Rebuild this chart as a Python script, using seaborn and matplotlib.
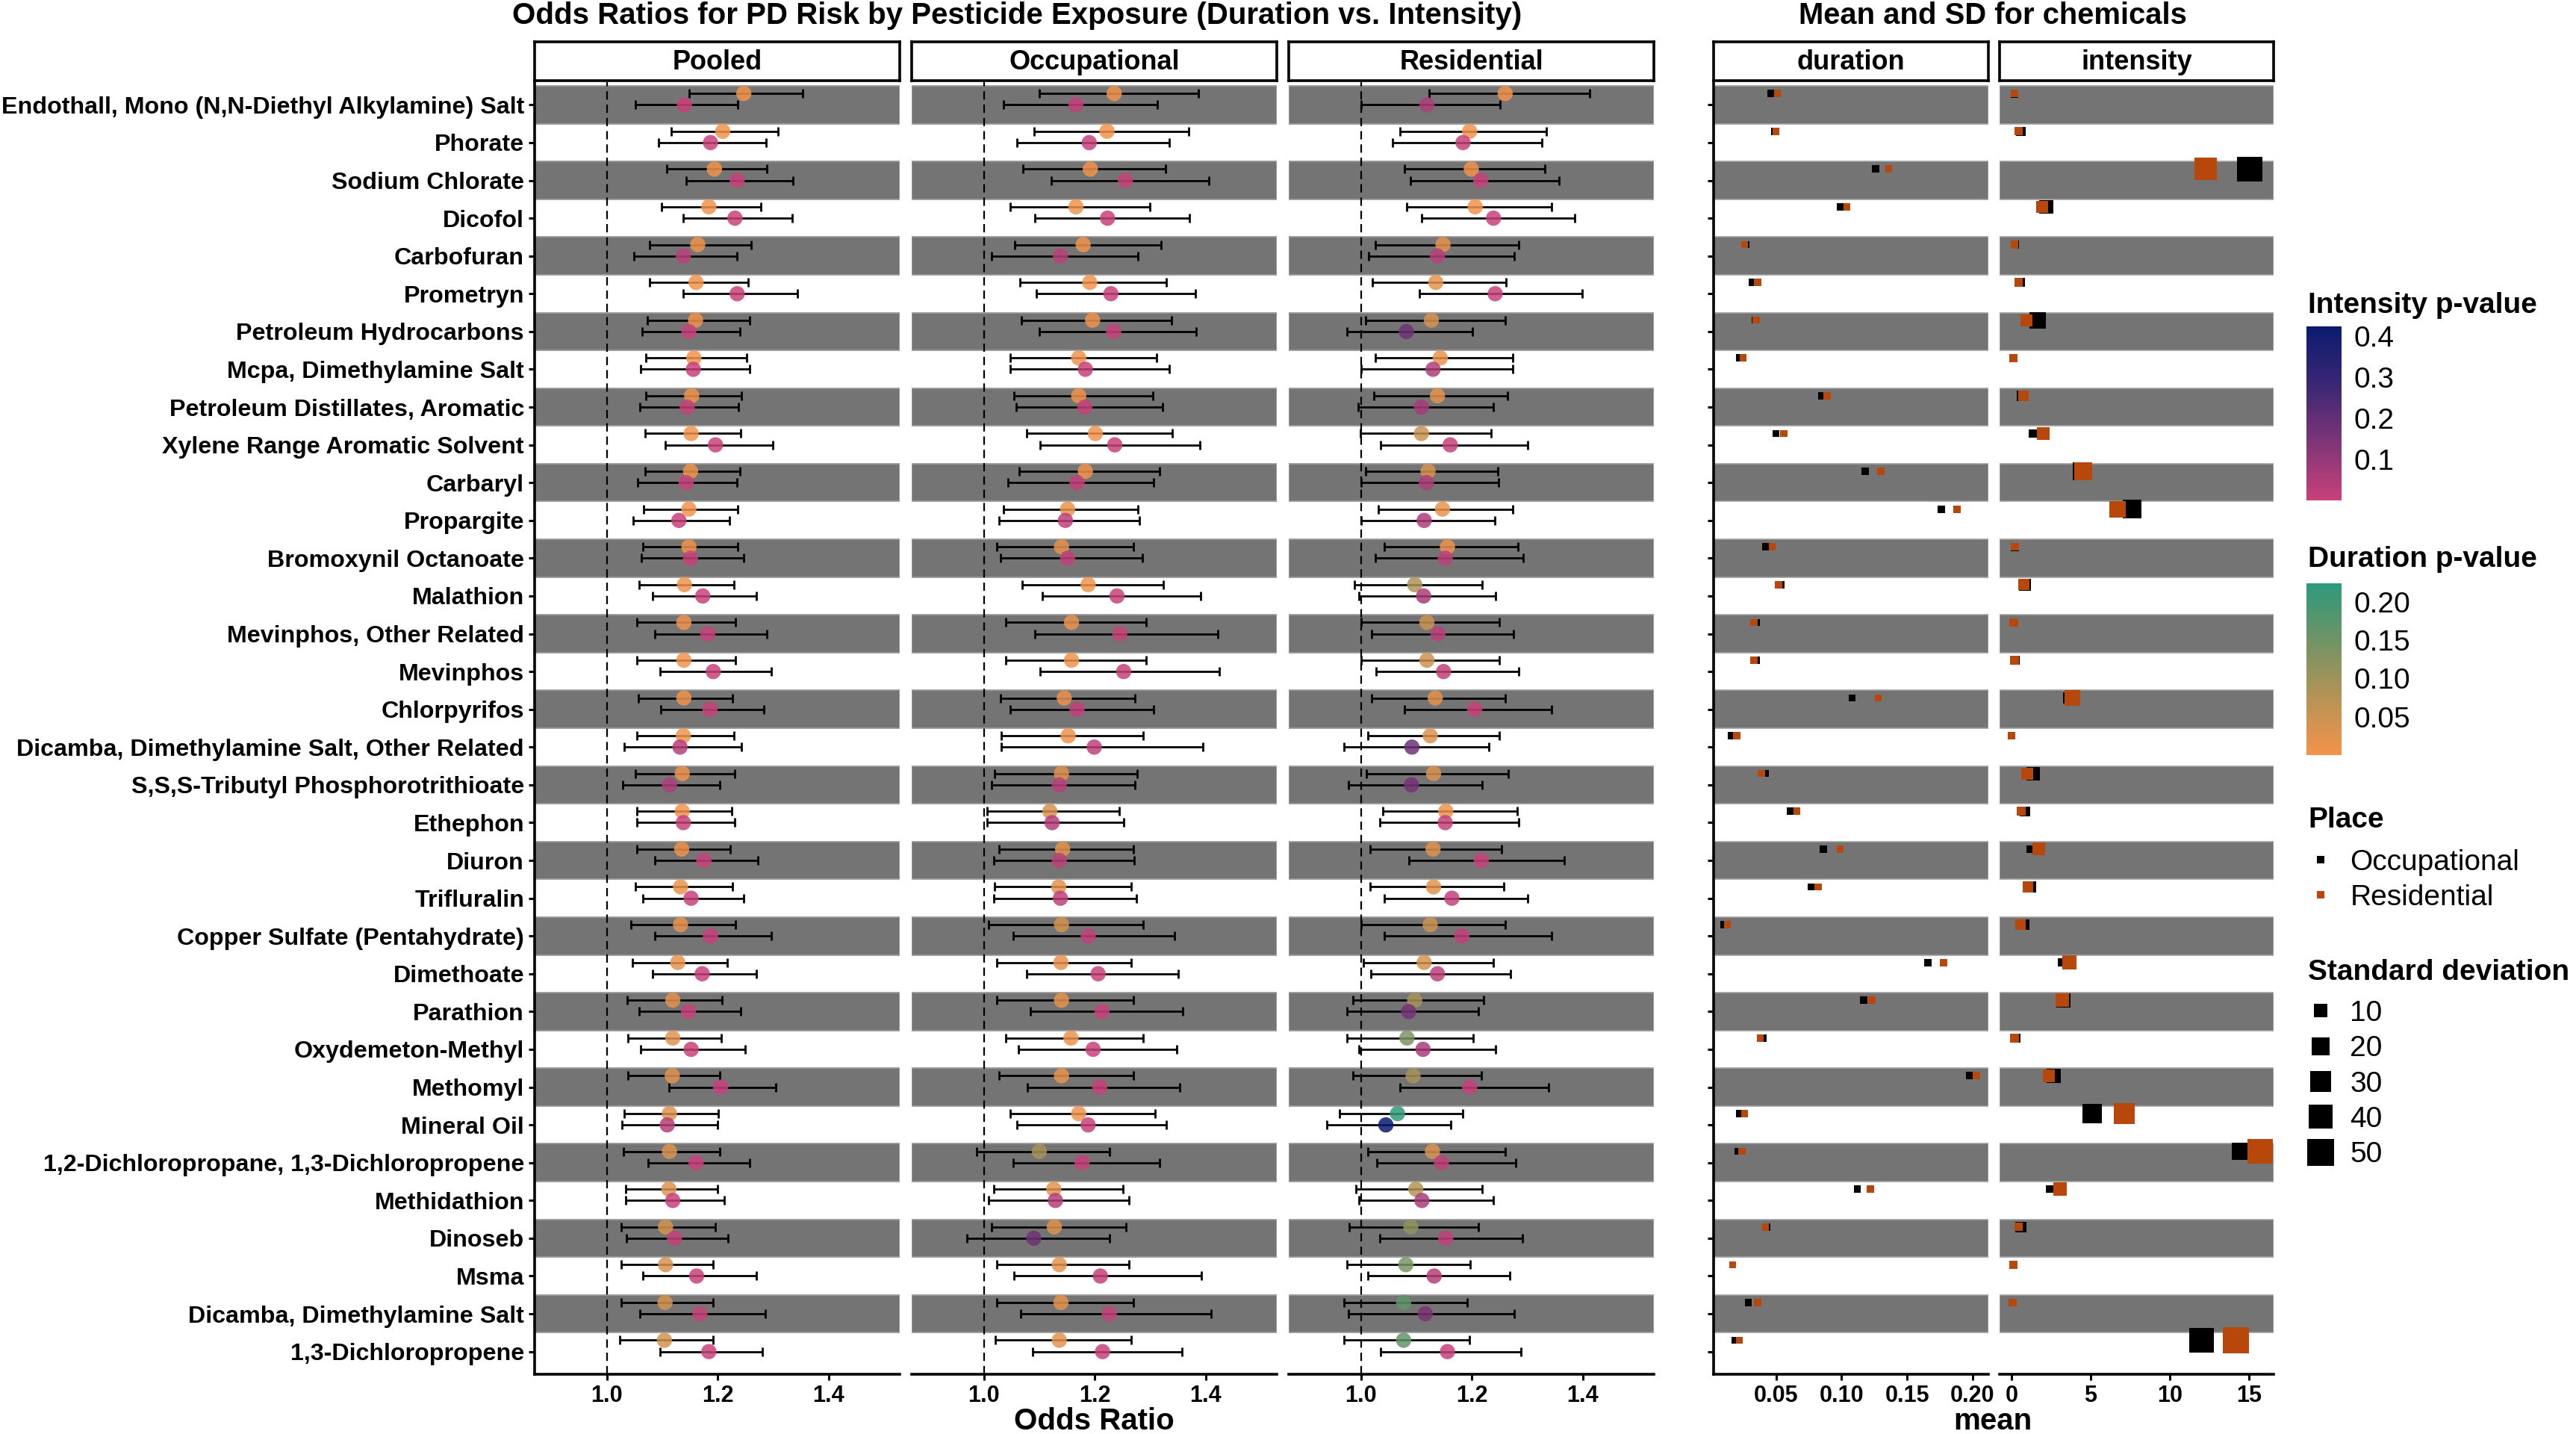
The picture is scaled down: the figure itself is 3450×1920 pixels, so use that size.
import numpy as np
import pandas as pd
import matplotlib
matplotlib.use("Agg")
from matplotlib import pyplot as plt
import seaborn as sns
from matplotlib.colors import LinearSegmentedColormap, Normalize
from matplotlib.lines import Line2D

# ---------------------------------------------------------------- data
chemicals = [
    "Endothall, Mono (N,N-Diethyl Alkylamine) Salt", "Phorate", "Sodium Chlorate",
    "Dicofol", "Carbofuran", "Prometryn", "Petroleum Hydrocarbons",
    "Mcpa, Dimethylamine Salt", "Petroleum Distillates, Aromatic",
    "Xylene Range Aromatic Solvent", "Carbaryl", "Propargite", "Bromoxynil Octanoate",
    "Malathion", "Mevinphos, Other Related", "Mevinphos", "Chlorpyrifos",
    "Dicamba, Dimethylamine Salt, Other Related", "S,S,S-Tributyl Phosphorotrithioate",
    "Ethephon", "Diuron", "Trifluralin", "Copper Sulfate (Pentahydrate)", "Dimethoate",
    "Parathion", "Oxydemeton-Methyl", "Methomyl", "Mineral Oil",
    "1,2-Dichloropropane, 1,3-Dichloropropene", "Methidathion", "Dinoseb", "Msma",
    "Dicamba, Dimethylamine Salt", "1,3-Dichloropropene",
]

# Pooled
pooled_dur_or = [1.247, 1.209, 1.194, 1.184, 1.164, 1.161, 1.160, 1.157, 1.153, 1.152, 1.151, 1.148, 1.148, 1.140, 1.139, 1.139, 1.139,
                 1.138, 1.136, 1.136, 1.135, 1.133, 1.133, 1.128, 1.119, 1.119, 1.118, 1.113, 1.113, 1.112, 1.106, 1.106, 1.105, 1.104]
pooled_dur_lo = [1.149, 1.116, 1.108, 1.099, 1.077, 1.077, 1.073, 1.071, 1.070, 1.069, 1.069, 1.066, 1.065, 1.058, 1.055, 1.055, 1.057,
                 1.055, 1.051, 1.055, 1.055, 1.051, 1.043, 1.046, 1.037, 1.038, 1.038, 1.032, 1.030, 1.034, 1.026, 1.026, 1.026, 1.023]
pooled_dur_hi = [1.353, 1.308, 1.288, 1.278, 1.260, 1.255, 1.257, 1.252, 1.243, 1.242, 1.240, 1.236, 1.236, 1.229, 1.232, 1.232, 1.227,
                 1.229, 1.230, 1.225, 1.223, 1.226, 1.232, 1.217, 1.208, 1.207, 1.204, 1.201, 1.204, 1.200, 1.195, 1.192, 1.192, 1.192]
pooled_dur_p = [0.001, 0.001, 0.001, 0.001, 0.002, 0.002, 0.002, 0.002, 0.003, 0.003, 0.003, 0.004, 0.004, 0.005, 0.005, 0.005, 0.005,
                0.006, 0.006, 0.006, 0.007, 0.008, 0.012, 0.015, 0.020, 0.025, 0.025, 0.030, 0.030, 0.030, 0.035, 0.035, 0.040, 0.040]
pooled_int_or = [1.140, 1.187, 1.235, 1.231, 1.138, 1.235, 1.148, 1.156, 1.145, 1.196, 1.143, 1.130, 1.151, 1.173, 1.182, 1.192, 1.186,
                 1.132, 1.113, 1.138, 1.175, 1.152, 1.187, 1.172, 1.147, 1.152, 1.205, 1.109, 1.161, 1.119, 1.122, 1.162, 1.168, 1.184]
pooled_int_lo = [1.052, 1.094, 1.143, 1.138, 1.049, 1.138, 1.064, 1.061, 1.060, 1.105, 1.056, 1.047, 1.062, 1.083, 1.086, 1.096, 1.097,
                 1.031, 1.029, 1.055, 1.086, 1.065, 1.086, 1.082, 1.059, 1.061, 1.112, 1.027, 1.075, 1.034, 1.036, 1.065, 1.060, 1.096]
pooled_int_hi = [1.236, 1.287, 1.336, 1.334, 1.235, 1.343, 1.240, 1.258, 1.238, 1.299, 1.235, 1.221, 1.247, 1.270, 1.288, 1.297, 1.283,
                 1.243, 1.204, 1.230, 1.273, 1.247, 1.297, 1.269, 1.241, 1.250, 1.305, 1.200, 1.257, 1.212, 1.219, 1.270, 1.286, 1.281]
pooled_int_p = [0.001, 0.001, 0.001, 0.001, 0.020, 0.001, 0.002, 0.002, 0.002, 0.001, 0.002, 0.003, 0.002, 0.001, 0.001, 0.001, 0.001,
                0.030, 0.050, 0.002, 0.001, 0.002, 0.001, 0.001, 0.002, 0.002, 0.001, 0.030, 0.001, 0.007, 0.006, 0.002, 0.003, 0.001]

# Occupational
occ_dur_or = [1.235, 1.222, 1.192, 1.166, 1.179, 1.191, 1.196, 1.171, 1.171, 1.201, 1.183, 1.151, 1.140, 1.188, 1.158, 1.158, 1.145,
              1.152, 1.140, 1.119, 1.142, 1.135, 1.140, 1.139, 1.140, 1.157, 1.140, 1.171, 1.100, 1.126, 1.127, 1.136, 1.139, 1.136]
occ_dur_lo = [1.100, 1.091, 1.070, 1.048, 1.056, 1.065, 1.068, 1.048, 1.055, 1.077, 1.064, 1.035, 1.023, 1.069, 1.039, 1.039, 1.030,
              1.031, 1.019, 1.006, 1.027, 1.019, 1.009, 1.023, 1.023, 1.039, 1.027, 1.048, 0.987, 1.018, 1.014, 1.023, 1.023, 1.021]
occ_dur_hi = [1.387, 1.369, 1.327, 1.299, 1.319, 1.329, 1.338, 1.312, 1.304, 1.340, 1.317, 1.278, 1.270, 1.323, 1.292, 1.292, 1.273,
              1.287, 1.277, 1.244, 1.269, 1.265, 1.287, 1.266, 1.270, 1.287, 1.270, 1.309, 1.227, 1.251, 1.256, 1.262, 1.269, 1.266]
occ_dur_p = [0.001, 0.001, 0.001, 0.005, 0.003, 0.002, 0.002, 0.005, 0.003, 0.001, 0.002, 0.012, 0.018, 0.001, 0.010, 0.010, 0.013,
             0.012, 0.022, 0.038, 0.016, 0.021, 0.035, 0.018, 0.018, 0.010, 0.015, 0.005, 0.090, 0.021, 0.026, 0.020, 0.018, 0.020]
occ_int_or = [1.166, 1.190, 1.255, 1.223, 1.138, 1.229, 1.234, 1.183, 1.182, 1.236, 1.168, 1.147, 1.151, 1.240, 1.245, 1.252, 1.168,
              1.199, 1.136, 1.123, 1.136, 1.138, 1.188, 1.206, 1.213, 1.197, 1.209, 1.188, 1.177, 1.129, 1.090, 1.210, 1.226, 1.214]
occ_int_lo = [1.035, 1.060, 1.122, 1.092, 1.014, 1.095, 1.100, 1.048, 1.058, 1.101, 1.043, 1.027, 1.030, 1.106, 1.092, 1.101, 1.048,
              1.031, 1.014, 1.006, 1.018, 1.018, 1.053, 1.077, 1.084, 1.062, 1.079, 1.060, 1.053, 1.009, 0.969, 1.055, 1.066, 1.088]
occ_int_hi = [1.313, 1.334, 1.405, 1.371, 1.278, 1.382, 1.383, 1.334, 1.322, 1.390, 1.306, 1.281, 1.286, 1.391, 1.422, 1.425, 1.306,
              1.395, 1.273, 1.252, 1.271, 1.275, 1.343, 1.351, 1.358, 1.348, 1.353, 1.329, 1.317, 1.262, 1.226, 1.392, 1.409, 1.357]
occ_int_p = [0.011, 0.003, 0.001, 0.001, 0.027, 0.001, 0.001, 0.007, 0.003, 0.001, 0.010, 0.014, 0.012, 0.001, 0.002, 0.002, 0.007,
             0.018, 0.027, 0.039, 0.020, 0.020, 0.005, 0.001, 0.001, 0.003, 0.001, 0.003, 0.004, 0.034, 0.170, 0.008, 0.006, 0.001]

# Residential
res_dur_or = [1.260, 1.196, 1.199, 1.206, 1.148, 1.135, 1.127, 1.143, 1.138, 1.109, 1.121, 1.147, 1.156, 1.097, 1.119, 1.119, 1.134,
              1.125, 1.131, 1.153, 1.130, 1.131, 1.125, 1.114, 1.097, 1.083, 1.094, 1.066, 1.129, 1.099, 1.090, 1.081, 1.077, 1.077]
res_dur_lo = [1.123, 1.071, 1.078, 1.083, 1.026, 1.021, 1.008, 1.026, 1.023, 0.999, 1.009, 1.032, 1.042, 0.988, 1.001, 1.001, 1.019,
              1.013, 1.010, 1.039, 1.017, 1.017, 1.001, 1.004, 0.986, 0.975, 0.986, 0.962, 1.012, 0.991, 0.979, 0.975, 0.970, 0.970]
res_dur_hi = [1.412, 1.334, 1.332, 1.343, 1.284, 1.262, 1.260, 1.274, 1.264, 1.234, 1.247, 1.274, 1.283, 1.218, 1.249, 1.249, 1.260,
              1.249, 1.265, 1.282, 1.253, 1.258, 1.260, 1.239, 1.221, 1.203, 1.217, 1.183, 1.260, 1.219, 1.212, 1.197, 1.192, 1.195]
res_dur_p = [0.001, 0.001, 0.001, 0.001, 0.016, 0.019, 0.036, 0.015, 0.017, 0.052, 0.033, 0.011, 0.006, 0.082, 0.048, 0.048, 0.021,
             0.028, 0.033, 0.007, 0.023, 0.023, 0.048, 0.041, 0.089, 0.136, 0.091, 0.220, 0.030, 0.074, 0.115, 0.138, 0.165, 0.165]
res_int_or = [1.119, 1.184, 1.216, 1.239, 1.138, 1.242, 1.082, 1.130, 1.109, 1.161, 1.118, 1.114, 1.152, 1.113, 1.139, 1.149, 1.205,
              1.092, 1.091, 1.152, 1.217, 1.164, 1.182, 1.138, 1.086, 1.112, 1.196, 1.045, 1.145, 1.110, 1.153, 1.132, 1.116, 1.156]
res_int_lo = [1.001, 1.057, 1.090, 1.109, 1.014, 1.105, 0.975, 1.001, 0.995, 1.036, 1.001, 1.000, 1.026, 0.996, 1.019, 1.027, 1.078,
              0.970, 0.978, 1.034, 1.086, 1.042, 1.042, 1.018, 0.975, 0.996, 1.070, 0.939, 1.029, 0.996, 1.034, 1.012, 0.977, 1.036]
res_int_hi = [1.251, 1.326, 1.357, 1.386, 1.277, 1.399, 1.201, 1.274, 1.239, 1.301, 1.248, 1.242, 1.292, 1.243, 1.275, 1.284, 1.344,
              1.231, 1.219, 1.284, 1.366, 1.301, 1.343, 1.270, 1.212, 1.243, 1.338, 1.162, 1.279, 1.239, 1.291, 1.268, 1.277, 1.288]
res_int_p = [0.048, 0.004, 0.001, 0.001, 0.028, 0.001, 0.170, 0.048, 0.061, 0.010, 0.050, 0.050, 0.017, 0.059, 0.022, 0.014, 0.001,
             0.180, 0.160, 0.009, 0.001, 0.009, 0.009, 0.023, 0.160, 0.060, 0.002, 0.420, 0.014, 0.060, 0.009, 0.030, 0.150, 0.009]

# Mean and SD of exposure, by place
dur_mean_occ = [0.046, 0.049, 0.126, 0.099, 0.027, 0.032, 0.034, 0.022, 0.085, 0.050, 0.118, 0.176, 0.042, 0.054, 0.035, 0.035, 0.108,
                0.016, 0.042, 0.061, 0.086, 0.077, 0.010, 0.166, 0.117, 0.040, 0.198, 0.022, 0.021, 0.112, 0.043, 0.017, 0.029, 0.019]
dur_mean_res = [0.051, 0.050, 0.136, 0.104, 0.026, 0.036, 0.035, 0.025, 0.089, 0.056, 0.130, 0.188, 0.047, 0.052, 0.033, 0.033, 0.128,
                0.020, 0.039, 0.066, 0.099, 0.082, 0.013, 0.178, 0.123, 0.038, 0.203, 0.026, 0.024, 0.122, 0.042, 0.017, 0.036, 0.022]
dur_sd_occ = [0.08, 0.06, 0.21, 0.17, 0.05, 0.06, 0.07, 0.04, 0.14, 0.09, 0.20, 0.26, 0.07, 0.09, 0.06, 0.06, 0.18,
              0.03, 0.07, 0.10, 0.15, 0.13, 0.02, 0.24, 0.19, 0.07, 0.28, 0.04, 0.04, 0.18, 0.07, 0.03, 0.05, 0.03]
dur_sd_res = [0.09, 0.07, 0.22, 0.18, 0.05, 0.07, 0.07, 0.05, 0.15, 0.10, 0.21, 0.27, 0.08, 0.09, 0.06, 0.06, 0.20,
              0.04, 0.07, 0.11, 0.16, 0.14, 0.03, 0.25, 0.20, 0.07, 0.29, 0.05, 0.05, 0.19, 0.07, 0.03, 0.06, 0.04]
int_mean_occ = [0.20, 0.60, 15.05, 2.18, 0.20, 0.56, 1.67, 0.12, 0.66, 1.36, 4.40, 7.63, 0.21, 0.85, 0.16, 0.25, 3.60,
                0.00, 1.36, 0.85, 1.17, 1.22, 0.80, 3.19, 3.29, 0.26, 2.68, 5.09, 14.44, 2.42, 0.59, 0.12, 0.09, 12.00]
int_mean_res = [0.19, 0.47, 12.28, 1.95, 0.19, 0.45, 0.94, 0.12, 0.75, 2.02, 4.53, 6.71, 0.21, 0.77, 0.14, 0.21, 3.83,
                0.00, 1.00, 0.61, 1.74, 1.03, 0.56, 3.66, 3.19, 0.19, 2.35, 7.14, 15.70, 3.05, 0.45, 0.12, 0.07, 14.15]
int_sd_occ = [1.0, 2.6, 43.0, 11.0, 1.2, 3.0, 15.9, 1.7, 3.7, 1.7, 18.7, 21.6, 1.0, 7.3, 1.7, 2.6, 4.8,
              0.1, 10.0, 3.7, 0.1, 6.0, 5.4, 0.8, 11.7, 2.6, 11.7, 24.8, 17.7, 0.1, 4.8, 1.7, 1.0, 42.0]
int_sd_res = [0.8, 1.2, 34.0, 6.6, 0.8, 2.1, 7.3, 1.7, 4.2, 8.7, 18.7, 16.8, 0.8, 6.0, 1.7, 2.1, 15.0,
              0.1, 6.6, 2.6, 8.0, 4.8, 4.2, 11.7, 10.0, 1.7, 7.3, 29.3, 43.4, 10.0, 1.7, 1.7, 0.8, 47.7]

# ---------------------------------------------------------------- tables
n = len(chemicals)
or_table = {
    "Pooled": {"Duration": (pooled_dur_or, pooled_dur_lo, pooled_dur_hi, pooled_dur_p),
               "Intensity": (pooled_int_or, pooled_int_lo, pooled_int_hi, pooled_int_p)},
    "Occupational": {"Duration": (occ_dur_or, occ_dur_lo, occ_dur_hi, occ_dur_p),
                     "Intensity": (occ_int_or, occ_int_lo, occ_int_hi, occ_int_p)},
    "Residential": {"Duration": (res_dur_or, res_dur_lo, res_dur_hi, res_dur_p),
                    "Intensity": (res_int_or, res_int_lo, res_int_hi, res_int_p)},
}
frames = []
for panel, measures in or_table.items():
    for measure, (est, lo, hi, p) in measures.items():
        frames.append(pd.DataFrame({"chemical": chemicals, "row": np.arange(n), "panel": panel,
                                    "measure": measure, "or": est, "lo": lo, "hi": hi, "p": p}))
or_df = pd.concat(frames, ignore_index=True)

ms_frames = []
for var, m_occ, m_res, s_occ, s_res in [("duration", dur_mean_occ, dur_mean_res, dur_sd_occ, dur_sd_res),
                                         ("intensity", int_mean_occ, int_mean_res, int_sd_occ, int_sd_res)]:
    for place, m, s in [("Occupational", m_occ, s_occ), ("Residential", m_res, s_res)]:
        ms_frames.append(pd.DataFrame({"row": np.arange(n), "var": var, "place": place, "mean": m, "sd": s}))
ms_df = pd.concat(ms_frames, ignore_index=True)

# ---------------------------------------------------------------- style
W, H, DPI = 3450, 1920, 200
PANEL_TOP, PANEL_BOT = 110, 1840
STRIP_TOP, STRIP_BOT = 56, 108
BAND = "#747474"
DUR_OFFSET = -0.3
INT_PMAX, DUR_PMAX = 0.423, 0.224
PLACE_COLORS = {"Occupational": "#000000", "Residential": "#B8470B"}
SQ_SIZES = (11.7, 167.0)

int_cmap = LinearSegmentedColormap.from_list("int_p", ["#C8417A", "#7E3577", "#3A2774", "#0B1B6F"])
dur_cmap = LinearSegmentedColormap.from_list("dur_p", ["#F4934B", "#C69352", "#93935D", "#5E956A", "#2D9A7D"])

sns.set_theme(style="white")
plt.rcParams["font.family"] = ["Liberation Sans", "DejaVu Sans"]
for key in ("text.color", "axes.labelcolor", "xtick.color", "ytick.color", "axes.edgecolor"):
    plt.rcParams[key] = "black"

fig = plt.figure(figsize=(W / DPI, H / DPI), dpi=DPI)


def box(x0, y0, x1, y1):
    return [x0 / W, 1 - y1 / H, (x1 - x0) / W, (y1 - y0) / H]


def add_strip(label, x0, x1):
    sax = fig.add_axes(box(x0, STRIP_TOP, x1, STRIP_BOT))
    sax.set_facecolor("white")
    sax.set_xticks([])
    sax.set_yticks([])
    for s in sax.spines.values():
        s.set_visible(True)
        s.set_color("black")
        s.set_linewidth(1.3)
    sax.text(0.5, 0.47, label, transform=sax.transAxes, ha="center", va="center",
             fontsize=13, fontweight="bold")


def add_bands(ax):
    for i in range(0, n, 2):
        ax.axhspan(i - 0.5, i + 0.5, facecolor=BAND, edgecolor="#a0a0a0", linewidth=0.6, zorder=0)
    ax.set_ylim(n - 0.4, -0.6)


def style_axes(ax, first, xlim, ticks, labels):
    ax.set_facecolor("white")
    ax.grid(False)
    ax.set_xlim(*xlim)
    ax.set_xlabel("")
    ax.set_ylabel("")
    for side in ("top", "right"):
        ax.spines[side].set_visible(False)
    ax.spines["bottom"].set_linewidth(1.3)
    ax.spines["left"].set_visible(first)
    ax.spines["left"].set_linewidth(1.3)
    ax.set_xticks(ticks, labels, fontweight="bold", fontsize=11)
    ax.tick_params(axis="x", bottom=True, length=3, width=1.1, pad=2)
    if first:
        ax.tick_params(axis="y", left=True, length=3, width=1.1, pad=2)
    else:
        ax.tick_params(axis="y", left=False, labelleft=False)


# ---------------------------------------------------------------- odds ratio panels
or_panels = [("Pooled", 716, 1205), ("Occupational", 1221, 1710), ("Residential", 1726, 2215)]
for k, (panel, x0, x1) in enumerate(or_panels):
    ax = fig.add_axes(box(x0, PANEL_TOP, x1, PANEL_BOT))
    add_bands(ax)
    ax.axvline(1.0, color="black", linewidth=0.8, linestyle=(0, (5, 3)), zorder=1)
    for measure, offset, cmap, pmax in [("Duration", DUR_OFFSET, dur_cmap, DUR_PMAX),
                                        ("Intensity", 0.0, int_cmap, INT_PMAX)]:
        sub = or_df[(or_df["panel"] == panel) & (or_df["measure"] == measure)].copy()
        sub["ypos"] = sub["row"] + offset
        ax.errorbar(sub["or"], sub["ypos"], xerr=[sub["or"] - sub["lo"], sub["hi"] - sub["or"]],
                    fmt="none", ecolor="black", elinewidth=1.0, capsize=2.0, capthick=1.0, zorder=2)
        sns.scatterplot(data=sub, x="or", y="ypos", hue="p", palette=cmap, hue_norm=(0, pmax),
                        s=54, alpha=0.85, linewidth=0, legend=False, ax=ax, zorder=3)
    style_axes(ax, k == 0, (0.870, 1.528), [1.0, 1.2, 1.4], ["1.0", "1.2", "1.4"])
    add_bands(ax)
    if k == 0:
        ax.set_yticks(range(n), chemicals, fontweight="bold", fontsize=11.6)
    add_strip(panel, x0, x1)

# ---------------------------------------------------------------- mean / sd panels
ms_panels = [("duration", 2295, 2663, (0.0024, 0.212), [0.05, 0.10, 0.15, 0.20], ["0.05", "0.10", "0.15", "0.20"]),
             ("intensity", 2678, 3045, (-0.75, 16.55), [0, 5, 10, 15], ["0", "5", "10", "15"])]
for k, (var, x0, x1, xlim, ticks, labels) in enumerate(ms_panels):
    ax = fig.add_axes(box(x0, PANEL_TOP, x1, PANEL_BOT))
    sub = ms_df[ms_df["var"] == var].copy()
    sub["ypos"] = sub["row"] + DUR_OFFSET
    sns.scatterplot(data=sub, x="mean", y="ypos", hue="place", palette=PLACE_COLORS,
                    size="sd", sizes=SQ_SIZES, size_norm=(0, 50), marker="s",
                    linewidth=0, legend=False, ax=ax, zorder=3)
    add_bands(ax)
    style_axes(ax, k == 0, xlim, ticks, labels)
    if k == 0:
        ax.set_yticks(range(n), [""] * n)
    add_strip(var, x0, x1)

# ---------------------------------------------------------------- titles
fig.text(1362 / W, 1 - 21 / H, "Odds Ratios for PD Risk by Pesticide Exposure (Duration vs. Intensity)",
         ha="center", va="center", fontsize=14.5, fontweight="bold")
fig.text(2669 / W, 1 - 21 / H, "Mean and SD for chemicals", ha="center", va="center",
         fontsize=14.4, fontweight="bold")
fig.text(1465 / W, 1 - 1903 / H, "Odds Ratio", ha="center", va="center", fontsize=14.5, fontweight="bold")
fig.text(2669 / W, 1 - 1903 / H, "mean", ha="center", va="center", fontsize=14.5, fontweight="bold")

# ---------------------------------------------------------------- legends
for title, ty, (b0, b1), cmap, pmax, cticks, clabels in [
        ("Intensity p-value", 409, (437, 670), int_cmap, INT_PMAX, [0.1, 0.2, 0.3, 0.4], ["0.1", "0.2", "0.3", "0.4"]),
        ("Duration p-value", 749, (781, 1011), dur_cmap, DUR_PMAX, [0.05, 0.10, 0.15, 0.20], ["0.05", "0.10", "0.15", "0.20"])]:
    fig.text(3091 / W, 1 - ty / H, title, ha="left", va="center", fontsize=14, fontweight="bold")
    cax = fig.add_axes(box(3089, b0, 3136, b1))
    cb = fig.colorbar(plt.cm.ScalarMappable(norm=Normalize(0, pmax), cmap=cmap), cax=cax, ticks=cticks)
    cb.outline.set_visible(False)
    cb.set_ticklabels(clabels)
    cax.tick_params(axis="y", which="major", direction="in", length=5, width=0.8, color="white",
                    labelsize=14, pad=6, left=True, right=True, labelleft=False, labelright=True)
    cax.minorticks_off()

fig.text(3091 / W, 1 - 1098 / H, "Place", ha="left", va="center", fontsize=14, fontweight="bold")
place_handles = [Line2D([], [], marker="s", linestyle="", color=PLACE_COLORS[p], markersize=3.6, markeredgewidth=0)
                 for p in PLACE_COLORS]
fig.legend(place_handles, list(PLACE_COLORS), loc="upper left",
           bbox_to_anchor=(3089 / W, 1 - 1137 / H), frameon=False, fontsize=14,
           handlelength=1.0, handletextpad=0.5, labelspacing=0.28, borderpad=0, borderaxespad=0)

fig.text(3091 / W, 1 - 1302 / H, "Standard deviation", ha="left", va="center", fontsize=14, fontweight="bold")
sd_levels = [10, 20, 30, 40, 50]
sd_handles = [Line2D([], [], marker="s", linestyle="", color="black", markeredgewidth=0,
                     markersize=np.sqrt(SQ_SIZES[0] + v / 50 * (SQ_SIZES[1] - SQ_SIZES[0])))
              for v in sd_levels]
fig.legend(sd_handles, [str(v) for v in sd_levels], loc="upper left",
           bbox_to_anchor=(3089 / W, 1 - 1339 / H), frameon=False, fontsize=14,
           handlelength=1.0, handletextpad=0.5, labelspacing=0.29, borderpad=0, borderaxespad=0)

fig.savefig("out.png", dpi=DPI)
